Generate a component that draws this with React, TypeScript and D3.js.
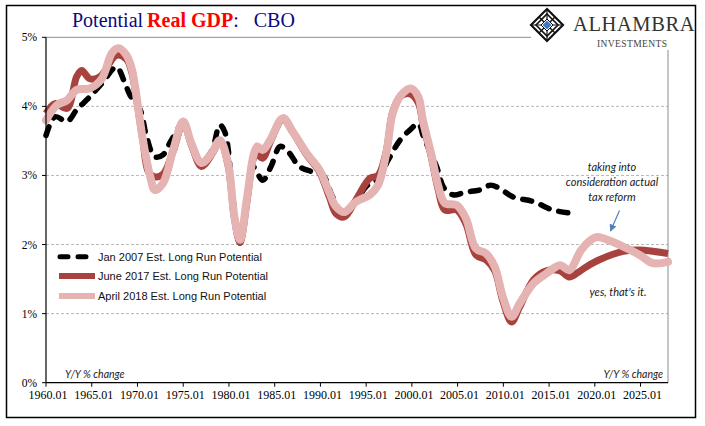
import React from "react";
import * as d3 from "d3";

const W = 705;
const H = 426;

// April 2018 Est. Long Run Potential
const aprYears = [1960, 1961.2, 1962.3, 1963.35, 1964.8, 1966.1, 1967.2, 1967.9, 1968.8, 1969.4, 1969.9, 1970.6, 1971.4, 1971.9, 1972.8, 1973.9, 1975.0, 1975.9, 1977.0, 1978.1, 1979.0, 1979.9, 1980.6, 1981.2, 1982.0, 1982.7, 1983.1, 1983.7, 1984.5, 1985.9, 1987.0, 1988.5, 1989.9, 1991.0, 1991.7, 1992.6, 1993.9, 1995.4, 1996.3, 1997.2, 1997.9, 1998.8, 1999.9, 2000.7, 2001.2, 2002.1, 2002.9, 2003.6, 2004.9, 2005.9, 2007.0, 2008.1, 2009.05, 2009.95, 2010.9, 2011.8, 2013.3, 2014.7, 2016.2, 2017.2, 2018.5, 2019.6, 2020.3, 2023.1, 2024.9, 2026.35, 2028];
const aprValues = [3.80, 4.02, 4.09, 4.24, 4.26, 4.40, 4.77, 4.84, 4.74, 4.53, 4.14, 3.51, 2.98, 2.79, 2.89, 3.37, 3.78, 3.46, 3.18, 3.32, 3.51, 3.18, 2.40, 2.07, 2.70, 3.30, 3.42, 3.37, 3.51, 3.83, 3.63, 3.32, 3.08, 2.74, 2.55, 2.47, 2.62, 2.72, 2.86, 3.32, 3.90, 4.16, 4.26, 4.14, 3.80, 3.32, 2.84, 2.60, 2.57, 2.38, 1.94, 1.87, 1.68, 1.24, 0.955, 1.15, 1.44, 1.58, 1.70, 1.63, 1.92, 2.07, 2.11, 1.97, 1.85, 1.73, 1.75];

// June 2017 Est. Long Run Potential
const junYears = [1960, 1961, 1962.3, 1963.35, 1963.9, 1964.8, 1965.9, 1967.7, 1968.8, 1969.4, 1969.9, 1970.6, 1971.2, 1971.9, 1972.8, 1973.9, 1975.0, 1975.9, 1977.0, 1978.1, 1979.0, 1979.9, 1980.6, 1981.2, 1982.0, 1982.7, 1983.1, 1983.7, 1984.5, 1985.9, 1987.0, 1988.5, 1989.9, 1991.0, 1991.7, 1992.6, 1993.9, 1995.4, 1996.3, 1997.2, 1997.9, 1998.8, 1999.8, 2000.7, 2001.2, 2002.1, 2002.9, 2003.6, 2004.9, 2005.9, 2007.0, 2008.1, 2009.05, 2009.95, 2010.9, 2011.8, 2013.3, 2014.7, 2016.2, 2017.2, 2018.2, 2019.1, 2020.5, 2023.1, 2024.9, 2028];
const junValues = [3.90, 4.04, 3.97, 4.43, 4.52, 4.40, 4.43, 4.74, 4.68, 4.48, 4.10, 3.50, 3.05, 2.98, 3.02, 3.35, 3.76, 3.44, 3.13, 3.30, 3.49, 3.15, 2.38, 2.03, 2.65, 3.25, 3.30, 3.25, 3.48, 3.81, 3.62, 3.30, 3.05, 2.68, 2.45, 2.40, 2.65, 2.96, 3.00, 3.35, 3.92, 4.15, 4.18, 4.05, 3.75, 3.28, 2.78, 2.50, 2.50, 2.30, 1.85, 1.78, 1.62, 1.18, 0.88, 1.10, 1.49, 1.62, 1.62, 1.53, 1.60, 1.68, 1.78, 1.90, 1.92, 1.87];

// Jan 2007 Est. Long Run Potential
const janYears = [1960, 1961, 1962.3, 1963.35, 1964.8, 1966.1, 1967.7, 1968.5, 1969.2, 1970.3, 1971.0, 1971.9, 1972.8, 1973.7, 1975.0, 1976.0, 1977.0, 1978.1, 1979.0, 1979.55, 1980.5, 1981.2, 1982.0, 1982.6, 1983.7, 1984.6, 1985.6, 1986.5, 1987.7, 1989.2, 1990.3, 1991.3, 1992.5, 1993.9, 1995.0, 1996.3, 1997.4, 1998.7, 1999.8, 2000.7, 2001.3, 2002.7, 2003.5, 2004.5, 2005.9, 2007.4, 2008.6, 2009.5, 2011.05, 2013.3, 2015.4, 2017.6];
const janValues = [3.58, 3.85, 3.78, 3.95, 4.14, 4.33, 4.57, 4.38, 4.16, 3.95, 3.56, 3.27, 3.30, 3.51, 3.75, 3.40, 3.20, 3.35, 3.73, 3.63, 2.60, 2.02, 2.70, 3.13, 2.93, 3.13, 3.42, 3.34, 3.13, 3.05, 3.00, 2.70, 2.45, 2.62, 2.84, 2.95, 3.22, 3.51, 3.66, 3.75, 3.55, 3.13, 2.82, 2.72, 2.76, 2.79, 2.86, 2.82, 2.69, 2.62, 2.50, 2.45];

const yTicks = [0, 1, 2, 3, 4, 5];
const yTickLabels = ["0%", "1%", "2%", "3%", "4%", "5%"];
const xTicks = [1960, 1965, 1970, 1975, 1980, 1985, 1990, 1995, 2000, 2005, 2010, 2015, 2020, 2025];
const xTickLabels = xTicks.map((t) => `${t}.01`);

const legendLabels = [
  "Jan 2007 Est. Long Run Potential",
  "June 2017 Est. Long Run Potential",
  "April 2018 Est. Long Run Potential",
];

const PINK = "#e5b3b1";
const DARKRED = "#a8423f";

export default function App() {
  const x = d3.scaleLinear().domain([1960, 2028]).range([46, 668]);
  const y = d3.scaleLinear().domain([0, 5]).range([382.7, 37.3]);
  const line = d3
    .line<[number, number]>()
    .x((d) => x(d[0]))
    .y((d) => y(d[1]))
    .curve(d3.curveCatmullRom.alpha(0.5));

  const zip = (a: number[], b: number[]) => a.map((v, i) => [v, b[i]] as [number, number]);
  const janPath = line(zip(janYears, janValues)) || "";
  const junPath = line(zip(junYears, junValues)) || "";
  const aprPath = line(zip(aprYears, aprValues)) || "";

  const left = x.range()[0];
  const right = x.range()[1];
  const bottom = y(0);
  const top = y(5);

  const serif = "'Liberation Serif', 'Times New Roman', serif";
  const sans = "'Liberation Sans', Arial, sans-serif";
  const ital = "Lato, 'Open Sans', sans-serif";

  // logo diamond
  const lc = { x: 547, y: 25 };
  const dia = (r: number) => `M${lc.x},${lc.y - r} L${lc.x + r},${lc.y} L${lc.x},${lc.y + r} L${lc.x - r},${lc.y} Z`;

  return (
    <svg width={W} height={H} style={{ position: "absolute", left: 0, top: 0, background: "#fff" }}>
      <rect x={0} y={0} width={W} height={H} fill="#fff" />
      <rect x={6.5} y={5.5} width={689} height={412} fill="none" stroke="#000" strokeWidth={1.5} />

      {/* gridlines */}
      {yTicks.filter((t) => t > 0 && t < 5).map((t) => (
        <line key={t} x1={left} x2={right} y1={y(t)} y2={y(t)} stroke="#b8b8b8" strokeWidth={1} strokeDasharray="3,2" />
      ))}
      <line x1={left} x2={right} y1={top} y2={top} stroke="#8c8c8c" strokeWidth={1} />
      <line x1={right} x2={right} y1={top} y2={bottom} stroke="#8c8c8c" strokeWidth={1} />

      {/* series */}
      <path d={janPath} fill="none" stroke="#000" strokeWidth={5.5} strokeDasharray="9,10" strokeLinecap="round" />
      <path d={junPath} fill="none" stroke={DARKRED} strokeWidth={7} strokeLinejoin="round" />
      <path d={aprPath} fill="none" stroke={PINK} strokeWidth={8} strokeLinejoin="round" strokeLinecap="round" />

      {/* axes */}
      <line x1={left} x2={left} y1={top} y2={bottom} stroke="#000" strokeWidth={1.2} />
      <line x1={left} x2={right} y1={bottom} y2={bottom} stroke="#000" strokeWidth={1.2} />
      {yTicks.map((t, i) => (
        <g key={t}>
          <line x1={left - 4} x2={left} y1={y(t)} y2={y(t)} stroke="#000" />
          <text x={37} y={y(t)} dy="0.35em" textAnchor="end" fontFamily={serif} fontSize={11.5} fill="#000">
            {yTickLabels[i]}
          </text>
        </g>
      ))}
      {xTicks.map((t, i) => (
        <g key={t}>
          <line x1={x(t)} x2={x(t)} y1={bottom} y2={bottom + 4} stroke="#000" />
          <text x={x(t) + 2} y={399} textAnchor="middle" fontFamily={serif} fontSize={12} fill="#000">
            {xTickLabels[i]}
          </text>
        </g>
      ))}

      {/* axis notes */}
      <text x={65} y={378} fontFamily={ital} fontStyle="italic" fontSize={10.5} fill="#1a1a1a">Y/Y % change</text>
      <text x={663} y={378} textAnchor="end" fontFamily={ital} fontStyle="italic" fontSize={10.5} fill="#1a1a1a">Y/Y % change</text>

      {/* legend */}
      <line x1={60} x2={95} y1={256.7} y2={256.7} stroke="#000" strokeWidth={5} strokeDasharray="8,10" strokeLinecap="round" />
      <line x1={59} x2={95} y1={276} y2={276} stroke={DARKRED} strokeWidth={6} />
      <line x1={59} x2={95} y1={296} y2={296} stroke={PINK} strokeWidth={6} />
      {legendLabels.map((l, i) => (
        <text key={l} x={98} y={[256.7, 276, 296][i]} dy="0.35em" fontFamily={sans} fontSize={11} fill="#111">
          {l}
        </text>
      ))}

      {/* annotations */}
      <g fontFamily={ital} fontStyle="italic" fontSize={11} fill="#1a1a1a" textAnchor="middle">
        <text x={612} y={170.5}>taking into</text>
        <text x={612} y={186}>consideration actual</text>
        <text x={612} y={201}>tax reform</text>
        <text x={618} y={295.5}>yes, that's it.</text>
      </g>
      <defs>
        <marker id="arr" viewBox="0 0 10 10" refX={9} refY={5} markerWidth={6} markerHeight={6} orient="auto">
          <path d="M0,0 L10,5 L0,10 Z" fill="#4f81bd" />
        </marker>
      </defs>
      <line x1={619.5} y1={210.5} x2={610.5} y2={231} stroke="#4f81bd" strokeWidth={1.2} markerEnd="url(#arr)" />

      {/* title */}
      <text x={72} y={27} fontFamily={serif} fontSize={20} fill="#0a0a80">
        <tspan>Potential</tspan>
        <tspan dx={4} fill="#ff0000" fontWeight="bold">Real GDP</tspan>
        <tspan>{":\u00a0\u00a0\u00a0CBO"}</tspan>
      </text>

      {/* logo */}
      <rect x={531} y={7} width={163} height={43} fill="#fff" />
      <path d={dia(16)} fill="#fff" stroke="#111" strokeWidth={2.2} />
      <path d={dia(11)} fill="none" stroke="#111" strokeWidth={1.6} />
      <path d={`M${lc.x - 8},${lc.y - 8} L${lc.x + 8},${lc.y + 8} M${lc.x + 8},${lc.y - 8} L${lc.x - 8},${lc.y + 8}`} stroke="#111" strokeWidth={1.4} />
      <path d={`M${lc.x},${lc.y - 16} L${lc.x},${lc.y + 16} M${lc.x - 16},${lc.y} L${lc.x + 16},${lc.y}`} stroke="#111" strokeWidth={1.2} />
      <path d={dia(6)} fill="#fff" stroke="#111" strokeWidth={1} />
      <path d={dia(4.5)} fill="#3a78c8" />
      <text x={573} y={31} fontFamily={serif} fontSize={20.5} fill="#333" letterSpacing={0.6}>ALHAMBRA</text>
      <text x={597} y={47} fontFamily={serif} fontSize={9.5} fill="#444" letterSpacing={0.4}>INVESTMENTS</text>
    </svg>
  );
}
